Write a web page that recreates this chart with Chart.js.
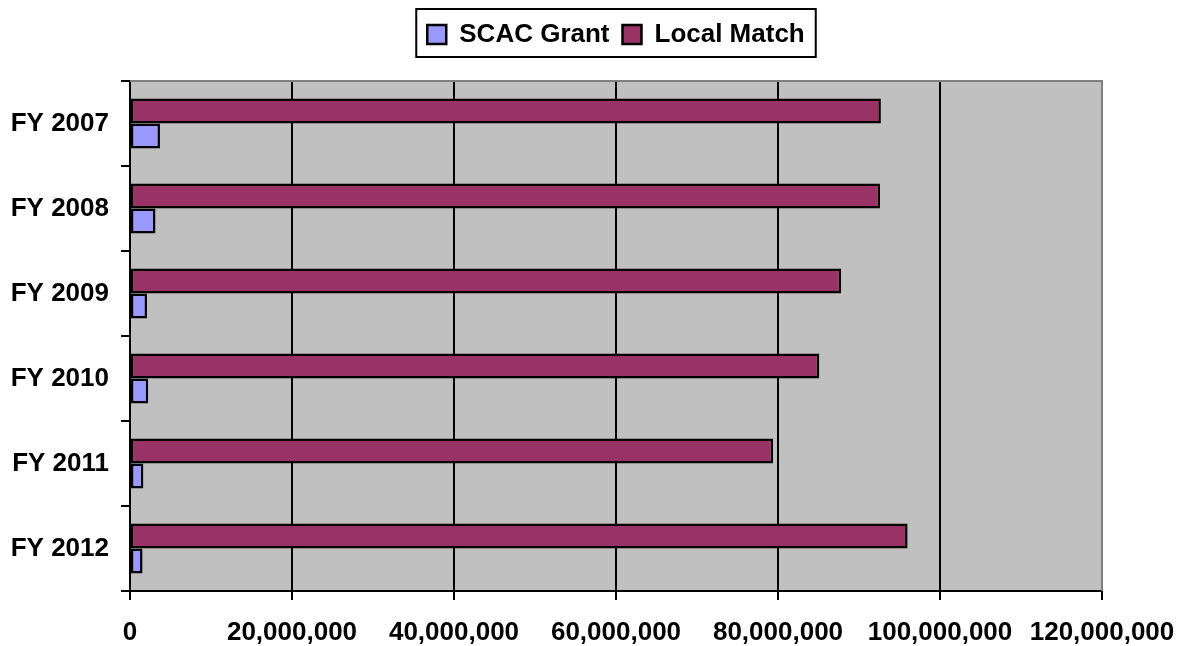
<!DOCTYPE html>
<html>
<head>
<meta charset="utf-8">
<script src="https://cdn.jsdelivr.net/npm/chart.js@4"></script>
<style>
  html, body { margin: 0; padding: 0; background: #fff; }
  #wrap { width: 1181px; height: 646px; }
</style>
</head>
<body>
<div id="wrap"><canvas id="chart"></canvas></div>
<script>
const categories = ['FY 2007', 'FY 2008', 'FY 2009', 'FY 2010', 'FY 2011', 'FY 2012'];
const scacGrant = [3700000, 3150000, 2100000, 2250000, 1650000, 1550000];
const localMatch = [92700000, 92600000, 87800000, 85100000, 79400000, 96000000];
const xTicks = [0, 20000000, 40000000, 60000000, 80000000, 100000000, 120000000];

const FONT = { family: '"Liberation Sans", Arial, sans-serif', size: 26, weight: 'bold' };

// grey plot area, grey top/right frame and a box round the legend
const frame = {
    id: 'frame',
    beforeInit: (chart) => {
        const legend = chart.legend;
        const fit = legend.fit;
        legend.fit = function () {
            fit.call(this);
            this.height = 81;
        };
    },
    afterLayout: (chart) => {
        const legend = chart.legend;
        const area = chart.chartArea;
        legend.left = area.left;
        legend.right = area.right;
        legend.width = area.right - area.left;
        legend.top = 8.5;
    },
    beforeDraw: (chart) => {
        const { ctx, chartArea: a } = chart;
        ctx.save();
        ctx.fillStyle = '#C0C0C0';
        ctx.fillRect(a.left, a.top, a.right - a.left, a.bottom - a.top);
        ctx.restore();
    },
    afterDraw: (chart) => {
        const { ctx, chartArea: a, legend } = chart;
        ctx.save();
        ctx.strokeStyle = '#808080';
        ctx.lineWidth = 2;
        ctx.beginPath();
        ctx.moveTo(a.left, a.top);
        ctx.lineTo(a.right, a.top);
        ctx.lineTo(a.right, a.bottom);
        ctx.stroke();

        const pad = legend.options.labels.padding;
        const content = legend.lineWidths[0] - pad;
        const cx = (legend.left + legend.right) / 2;
        ctx.strokeStyle = '#000';
        ctx.lineWidth = 2;
        ctx.strokeRect(cx - content / 2 - 11, 9, content + 22, 48);
        ctx.restore();
    }
};

new Chart(document.getElementById('chart').getContext('2d'), {
    type: 'bar',
    data: {
        labels: categories,
        datasets: [{
            label: 'Local Match',
            data: localMatch,
            backgroundColor: '#993366',
            borderColor: '#000',
            borderWidth: 2.5,
            borderSkipped: false
        }, {
            label: 'SCAC Grant',
            data: scacGrant,
            backgroundColor: '#9999FF',
            borderColor: '#000',
            borderWidth: 2.5,
            borderSkipped: false
        }]
    },
    options: {
        indexAxis: 'y',
        responsive: true,
        maintainAspectRatio: false,
        animation: false,
        categoryPercentage: 0.59,
        barPercentage: 1,
        layout: { padding: { left: 0, right: 79, top: 0, bottom: 0 } },
        scales: {
            x: {
                min: 0,
                max: 120000000,
                afterFit: (scale) => {
                    scale.height = 55;
                    scale.paddingLeft = 0;
                    scale.paddingRight = 0;
                },
                afterBuildTicks: (scale) => { scale.ticks = xTicks.map(v => ({ value: v })); },
                ticks: {
                    color: '#000',
                    font: FONT,
                    padding: 17,
                    maxRotation: 0,
                    callback: (v) => Number(v).toLocaleString('en-US')
                },
                grid: {
                    color: (c) => c.tick && c.tick.value === 120000000 ? '#808080' : '#000',
                    tickColor: '#000',
                    lineWidth: 2,
                    tickLength: 9
                },
                border: { color: '#000', width: 2 }
            },
            y: {
                afterFit: (scale) => { scale.width = 130; },
                ticks: { color: '#000', font: FONT, padding: 12 },
                grid: {
                    offset: true,
                    drawOnChartArea: false,
                    color: '#000',
                    lineWidth: 2,
                    tickLength: 9
                },
                border: { color: '#000', width: 2 }
            }
        },
        plugins: {
            legend: {
                position: 'top',
                reverse: true,
                labels: {
                    color: '#000',
                    font: FONT,
                    boxWidth: 19,
                    boxHeight: 19,
                    padding: 13
                }
            },
            tooltip: { enabled: false }
        }
    },
    plugins: [frame]
});
</script>
</body>
</html>
